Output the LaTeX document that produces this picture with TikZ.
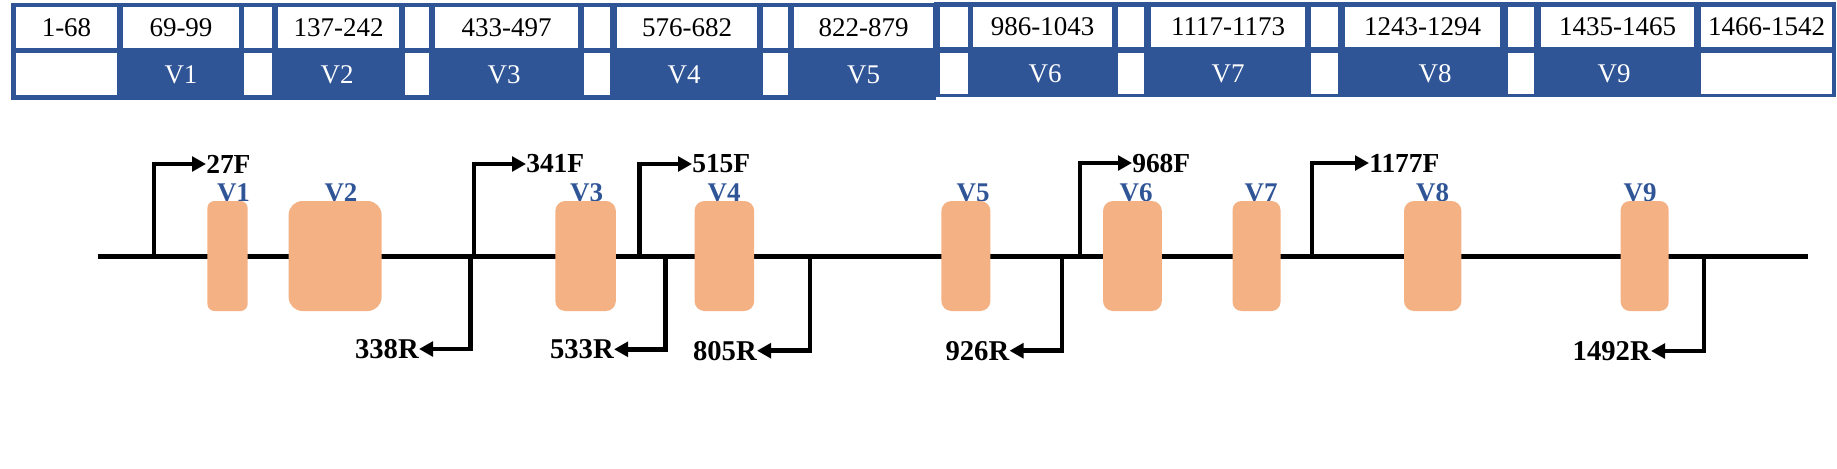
\documentclass[tikz,border=0pt]{standalone}
\usepackage{fontspec}
\setmainfont{Liberation Serif}
\usetikzlibrary{arrows.meta}
\definecolor{tblue}{HTML}{2F5597}
\definecolor{exonc}{HTML}{F4B183}
\definecolor{vblue}{HTML}{2F5597}
\newcommand{\tcell}[6]{\node[cell, minimum width={(#2-#1)*0.75pt}, minimum height={(#4-#3)*0.75pt}] (#6) at ({(#1+#2)/2},{(#3+#4)/2}) {#5};}
\newcommand{\exonbox}[5]{\node[exon, rounded corners=#4*0.75pt, minimum width={(#2-#1)*0.75pt}] (#5) at ({(#1+#2)/2},#3) {};}
\begin{document}
\begin{tikzpicture}[x=0.75pt,y=-0.75pt,
  cell/.style={fill=white, draw=none, inner sep=0pt, font=\fontsize{20.25}{24}\selectfont},
  vcell/.style={text=white, inner sep=0pt, font=\fontsize{20.25}{24}\selectfont},
  exon/.style={fill=exonc, draw=none, inner sep=0pt, minimum height=110*0.75pt},
  vlab/.style={text=vblue, inner sep=0pt, font=\fontsize{20.25}{24}\selectfont\bfseries},
  flab/.style={text=black, inner sep=0pt, font=\fontsize{20.6}{24}\selectfont\bfseries},
  rlab/.style={text=black, inner sep=0pt, font=\fontsize{21.5}{24}\selectfont\bfseries},
  mainline/.style={line width=3.75pt, black},
  primer/.style={line width=3.4pt, black, line join=miter, -{Triangle[length=10.5pt,width=11pt]}}
]
\useasboundingbox (0,0) rectangle (1837,468);
% ---- table backgrounds
\fill[tblue] (11,3.3) rectangle (936,99.5);
\fill[tblue] (934,1.5) rectangle (1836,97);
% ---- row 1
\tcell{16}{117}{7.3}{47.7}{1-68}{a1}
\tcell{123}{239}{7.3}{47.7}{69-99}{a2}
\tcell{244}{272}{7.3}{47.7}{}{a3}
\tcell{278}{399}{7.3}{47.7}{137-242}{a4}
\tcell{405}{429}{7.3}{47.7}{}{a5}
\tcell{435}{578}{7.3}{47.7}{433-497}{a6}
\tcell{584}{610}{7.3}{47.7}{}{a7}
\tcell{617}{757}{7.3}{47.7}{576-682}{a8}
\tcell{763}{788}{7.3}{47.7}{}{a9}
\tcell{794}{933}{7.3}{47.7}{822-879}{a10}
\tcell{940}{968}{6.7}{47.2}{}{a11}
\tcell{973}{1112}{6.7}{47.2}{986-1043}{a12}
\tcell{1118}{1144}{6.7}{47.2}{}{a13}
\tcell{1151}{1305}{6.7}{47.2}{1117-1173}{a14}
\tcell{1311}{1338}{6.7}{47.2}{}{a15}
\tcell{1345}{1500}{6.7}{47.2}{1243-1294}{a16}
\tcell{1508}{1534}{6.7}{47.2}{}{a17}
\tcell{1541}{1694}{6.7}{47.2}{1435-1465}{a18}
\tcell{1701}{1832}{6.7}{47.2}{1466-1542}{a19}
% ---- row 2
\tcell{16}{117}{53}{95}{}{b1}
\tcell{244}{272}{53}{95}{}{b3}
\tcell{405}{429}{53}{95}{}{b5}
\tcell{584}{610}{53}{95}{}{b7}
\tcell{763}{788}{53}{95}{}{b9}
\tcell{940}{968}{53}{93.5}{}{b11}
\tcell{1118}{1144}{53}{93.5}{}{b13}
\tcell{1311}{1338}{53}{93.5}{}{b15}
\tcell{1508}{1534}{53}{93.5}{}{b17}
\tcell{1701}{1832}{53}{93.5}{}{b19}
\node[vcell] (t1) at (181,75) {V1};
\node[vcell] (t2) at (337,75) {V2};
\node[vcell] (t3) at (504,75) {V3};
\node[vcell] (t4) at (684,75) {V4};
\node[vcell] (t5) at (863.5,75) {V5};
\node[vcell] (t6) at (1045,74) {V6};
\node[vcell] (t7) at (1228,74) {V7};
\node[vcell] (t8) at (1435,74) {V8};
\node[vcell] (t9) at (1614,74) {V9};
% ---- gene line
\coordinate (ls) at (98,256);
\coordinate (le) at (1808,256);
\draw[mainline] (ls) -- (le);
% ---- forward primers
\coordinate (f27) at (154,256);
\coordinate (f341) at (474,256);
\coordinate (f515) at (639.5,256);
\coordinate (f968) at (1080,256);
\coordinate (f1177) at (1312,256);
\node[flab, anchor=west] (l27) at (206,164) {27F};
\node[flab, anchor=west] (l341) at (526,164) {341F};
\node[flab, anchor=west] (l515) at (692,164) {515F};
\node[flab, anchor=west] (l968) at (1132,163) {968F};
\node[flab, anchor=west] (l1177) at (1369,163) {1177F};
\draw[primer] (f27) |- (l27.west);
\draw[primer] (f341) |- (l341.west);
\draw[primer] (f515) |- (l515.west);
\draw[primer] (f968) |- (l968.west);
\draw[primer] (f1177) |- (l1177.west);
% ---- reverse primers
\coordinate (r338) at (470.5,256);
\coordinate (r533) at (665.5,256);
\coordinate (r805) at (810,256);
\coordinate (r926) at (1062,256);
\coordinate (r1492) at (1704,256);
\node[rlab, anchor=east] (l338) at (419,349) {338R};
\node[rlab, anchor=east] (l533) at (614,349.3) {533R};
\node[rlab, anchor=east] (l805) at (757,350.7) {805R};
\node[rlab, anchor=east] (l926) at (1009.5,350.7) {926R};
\node[rlab, anchor=east] (l1492) at (1651,351) {1492R};
\draw[primer] (r338) |- (l338.east);
\draw[primer] (r533) |- (l533.east);
\draw[primer] (r805) |- (l805.east);
\draw[primer] (r926) |- (l926.east);
\draw[primer] (r1492) |- (l1492.east);
% ---- exon labels
\node[vlab, anchor=base] (v1l) at (233.5,201) {V1};
\node[vlab, anchor=base] (v2l) at (341,201) {V2};
\node[vlab, anchor=base] (v3l) at (586.5,201) {V3};
\node[vlab, anchor=base] (v4l) at (724,201) {V4};
\node[vlab, anchor=base] (v5l) at (973,201) {V5};
\node[vlab, anchor=base] (v6l) at (1136,201) {V6};
\node[vlab, anchor=base] (v7l) at (1261,201) {V7};
\node[vlab, anchor=base] (v8l) at (1432.7,201) {V8};
\node[vlab, anchor=base] (v9l) at (1640,201) {V9};
% ---- exons
\exonbox{207.4}{247.6}{256}{7}{e1}
\exonbox{288.6}{381.6}{256}{14}{e2}
\exonbox{555.3}{615.8}{256}{10}{e3}
\exonbox{694.5}{754.2}{256}{10}{e4}
\exonbox{941.4}{990.4}{256}{10}{e5}
\exonbox{1103}{1161.8}{256}{10}{e6}
\exonbox{1232.5}{1280.5}{256}{9}{e7}
\exonbox{1404}{1461.4}{256}{10}{e8}
\exonbox{1620.7}{1668.7}{256}{9}{e9}
\end{tikzpicture}
\end{document}
